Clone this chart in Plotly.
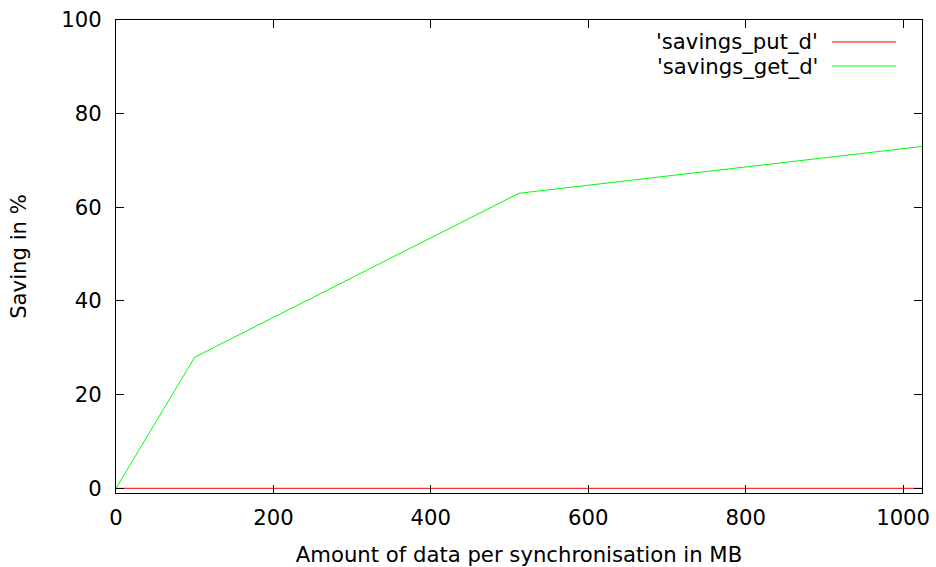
import plotly.graph_objects as go

sizes_mb = [0, 100, 512, 1024]
savings_put = [0, 0, 0, 0]
savings_get = [0, 28, 63, 73]
series_names = ["'savings_put_d'", "'savings_get_d'"]
series_colors = ["#ff0000", "#00ff00"]
x_ticks = [0, 200, 400, 600, 800, 1000]
y_ticks = [0, 20, 40, 60, 80, 100]

W, H = 936, 567
L, R, T, B = 116, 14, 20, 74
pw, ph = W - L - R, H - T - B

def px_x(p):
    return (p - L) / pw

def px_y(p):
    return (H - B - p) / ph

fig = go.Figure()
for name, ys, col in zip(series_names, [savings_put, savings_get], series_colors):
    fig.add_trace(go.Scatter(x=sizes_mb, y=ys, mode="lines", name=name,
                             line=dict(color=col, width=1), showlegend=False,
                             cliponaxis=False))

font = dict(family="DejaVu Sans", size=21.2, color="black")
axis_common = dict(showgrid=False, zeroline=False, showline=True, linecolor="black",
                   linewidth=1, mirror="allticks", ticks="inside", ticklen=8,
                   tickcolor="black", tickfont=font, automargin=False)
fig.update_xaxes(range=[0, 1024], tickvals=x_ticks, ticklabelstandoff=6, **axis_common,
                 title=dict(text="Amount of data per synchronisation in MB", font=font, standoff=17))
fig.update_yaxes(range=[-1, 100], tickvals=y_ticks, ticklabelstandoff=9, **axis_common,
                 title=dict(text="Saving in %", font=font, standoff=28))

# gnuplot-style key: text then line sample
for i, (name, col) in enumerate(zip(series_names, series_colors)):
    yy = 42 + i * 24
    fig.add_annotation(x=px_x(819), y=px_y(yy), xref="paper", yref="paper",
                       text=name, showarrow=False, xanchor="right", yanchor="middle",
                       font=font, borderpad=0)
    fig.add_shape(type="line", xref="paper", yref="paper",
                  x0=px_x(832), x1=px_x(896), y0=px_y(yy), y1=px_y(yy),
                  line=dict(color=col, width=1))

fig.update_layout(width=W, height=H, margin=dict(l=L, r=R, t=T, b=B, autoexpand=False),
                  plot_bgcolor="white", paper_bgcolor="white", font=font,
                  showlegend=False, hovermode=False)
fig.write_html("out.html", config={"displayModeBar": False, "responsive": False},
               post_script="document.body.style.margin='0';document.body.style.overflow='hidden';")
